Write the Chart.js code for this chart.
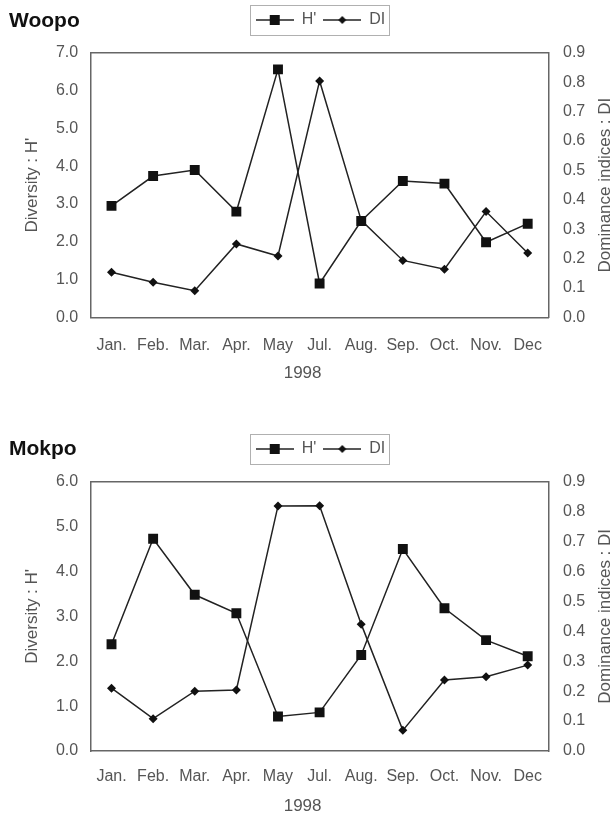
<!DOCTYPE html>
<html><head><meta charset="utf-8">
<script src="https://cdn.jsdelivr.net/npm/chart.js@4.4.0/dist/chart.umd.min.js"></script>
<style>
html,body{margin:0;padding:0;background:#fff;}
#wrap{position:relative;width:612px;height:817px;overflow:hidden;background:#fff;}
.ttl{position:absolute;left:9px;font:bold 21px "Liberation Sans",Arial,sans-serif;line-height:21px;color:#111;}
canvas{position:absolute;left:0;}
</style></head><body>
<div id="wrap">
<canvas id="c1" width="612" height="400" style="top:0;width:612px;height:400px"></canvas>
<canvas id="c2" width="612" height="417" style="top:400px;width:612px;height:417px"></canvas>
<div class="ttl" style="top:9px">Woopo</div>
<div class="ttl" style="top:437px">Mokpo</div>
</div>
<script>
const months = ['Jan.','Feb.','Mar.','Apr.','May','Jul.','Aug.','Sep.','Oct.','Nov.','Dec'];
const woopoH  = [2.95, 3.74, 3.90, 2.80, 6.56, 0.90, 2.55, 3.61, 3.54, 1.99, 2.48];
const woopoDI = [0.154, 0.120, 0.091, 0.250, 0.209, 0.804, 0.330, 0.194, 0.164, 0.360, 0.219];
const mokpoH  = [2.38, 4.73, 3.48, 3.07, 0.77, 0.86, 2.14, 4.50, 3.18, 2.47, 2.11];
const mokpoDI = [0.210, 0.108, 0.200, 0.204, 0.819, 0.820, 0.424, 0.069, 0.237, 0.248, 0.287];
const woopoHMax = 7, mokpoHMax = 6, diMax = 0.9;
const hTitle = "Diversity : H'", diTitle = 'Dominance indices : DI', xTitle = '1998';

const FONT = '"Liberation Sans", Arial, sans-serif';
Chart.defaults.font.family = FONT;
Chart.defaults.color = '#555';

function makeIcon(kind) {
  const c = document.createElement('canvas'); c.width = 38; c.height = 12;
  const g = c.getContext('2d');
  g.strokeStyle = '#222'; g.lineWidth = 1.5;
  g.beginPath(); g.moveTo(0, 6); g.lineTo(38, 6); g.stroke();
  g.fillStyle = '#111';
  if (kind === 'sq') g.fillRect(14, 1, 10, 10);
  else { g.beginPath(); g.moveTo(19, 2); g.lineTo(23, 6); g.lineTo(19, 10); g.lineTo(15, 6); g.closePath(); g.fill(); }
  return c;
}
const icons = [makeIcon('sq'), makeIcon('di')];

const frameText = {
  id: 'frameText',
  afterDraw(chart, args, opts) {
    const ctx = chart.ctx, a = chart.chartArea;
    ctx.save();
    const hb = chart.legend && chart.legend.legendHitBoxes;
    if (hb && hb.length) {
      const l = Math.min(...hb.map(h => h.left)), r = Math.max(...hb.map(h => h.left + h.width));
      const t = Math.min(...hb.map(h => h.top)), b = Math.max(...hb.map(h => h.top + h.height));
      ctx.strokeStyle = '#b0b0b0'; ctx.lineWidth = 1;
      ctx.strokeRect(Math.round(l - 6) + 0.5, Math.round(t - 7) + 0.5, Math.round(r - l + 9), Math.round(b - t + 14));
    }
    ctx.fillStyle = '#555';
    ctx.font = '17px ' + FONT;
    ctx.textAlign = 'center'; ctx.textBaseline = 'middle';
    const midY = (a.top + a.bottom) / 2;
    ctx.save();
    ctx.translate(32, midY);
    ctx.rotate(-Math.PI / 2);
    ctx.fillText(opts.leftTitle, 0, 0);
    ctx.restore();
    ctx.save();
    ctx.translate(605.5, midY);
    ctx.rotate(-Math.PI / 2);
    ctx.fillText(opts.rightTitle, 0, 0);
    ctx.restore();
    ctx.fillText(opts.xTitle, (a.left + a.right) / 2 - 17, a.bottom + 55.6);
    ctx.restore();
  }
};

function border() { return {display: true, color: '#666', width: 1.5}; }

function makeChart(id, hVals, diVals, hMax, lay) {
  return new Chart(document.getElementById(id), {
    type: 'line',
    data: {
      labels: months,
      datasets: [
        {label: "H'", data: hVals, yAxisID: 'y', borderColor: '#222', borderWidth: 1.5, tension: 0, fill: false,
         pointStyle: 'rect', pointRadius: 7, pointHoverRadius: 7, pointBackgroundColor: '#111', pointBorderColor: '#111', pointBorderWidth: 0},
        {label: 'DI', data: diVals, yAxisID: 'y1', borderColor: '#222', borderWidth: 1.5, tension: 0, fill: false,
         pointStyle: 'rectRot', pointRadius: 4.5, pointHoverRadius: 4.5, pointBackgroundColor: '#111', pointBorderColor: '#111', pointBorderWidth: 0}
      ]
    },
    options: {
      responsive: false, animation: false, events: [],
      layout: {padding: {left: 29, right: 0, top: lay.top, bottom: lay.bottom}},
      plugins: {
        legend: {
          position: 'top',
          labels: {
            usePointStyle: true, pointStyleWidth: 38, padding: 7, font: {size: 16}, color: '#555',
            generateLabels(chart) {
              const items = Chart.defaults.plugins.legend.labels.generateLabels(chart);
              items.forEach((it, i) => { it.pointStyle = icons[i]; });
              return items;
            }
          }
        },
        title: {display: false},
        tooltip: {enabled: false},
        frameText: {leftTitle: hTitle, rightTitle: diTitle, xTitle: xTitle}
      },
      scales: {
        x: {
          type: 'category', position: 'bottom', offset: true,
          grid: {display: false, drawTicks: false}, border: border(),
          ticks: {autoSkip: false, maxRotation: 0, minRotation: 0, padding: lay.xPad, font: {size: 16}, color: '#555'},
          afterFit(s) { s.height = lay.xH; }
        },
        xTop: {
          type: 'category', position: 'top', offset: true,
          grid: {display: false, drawTicks: false}, border: border(),
          ticks: {display: false},
          afterFit(s) { s.height = 14.7; }
        },
        y: {
          position: 'left', min: 0, max: hMax,
          grid: {display: false, drawTicks: false}, border: border(),
          ticks: {stepSize: 1, callback: v => Number(v).toFixed(1), padding: 12.5, font: {size: 16}, color: '#555'},
          afterFit(s) { s.width = 61.7; }
        },
        y1: {
          position: 'right', min: 0, max: diMax,
          grid: {display: false, drawTicks: false}, border: border(),
          ticks: {stepSize: 0.1, callback: v => Number(v).toFixed(1), padding: 14.5, font: {size: 16}, color: '#555'},
          afterFit(s) { s.width = 63.5; }
        }
      }
    },
    plugins: [frameText]
  });
}

makeChart('c1', woopoH, woopoDI, woopoHMax, {top: 5, bottom: 22.5, xH: 60, xPad: 18});
makeChart('c2', mokpoH, mokpoDI, mokpoHMax, {top: 34, bottom: 16, xH: 50, xPad: 16});
</script>
</body></html>
